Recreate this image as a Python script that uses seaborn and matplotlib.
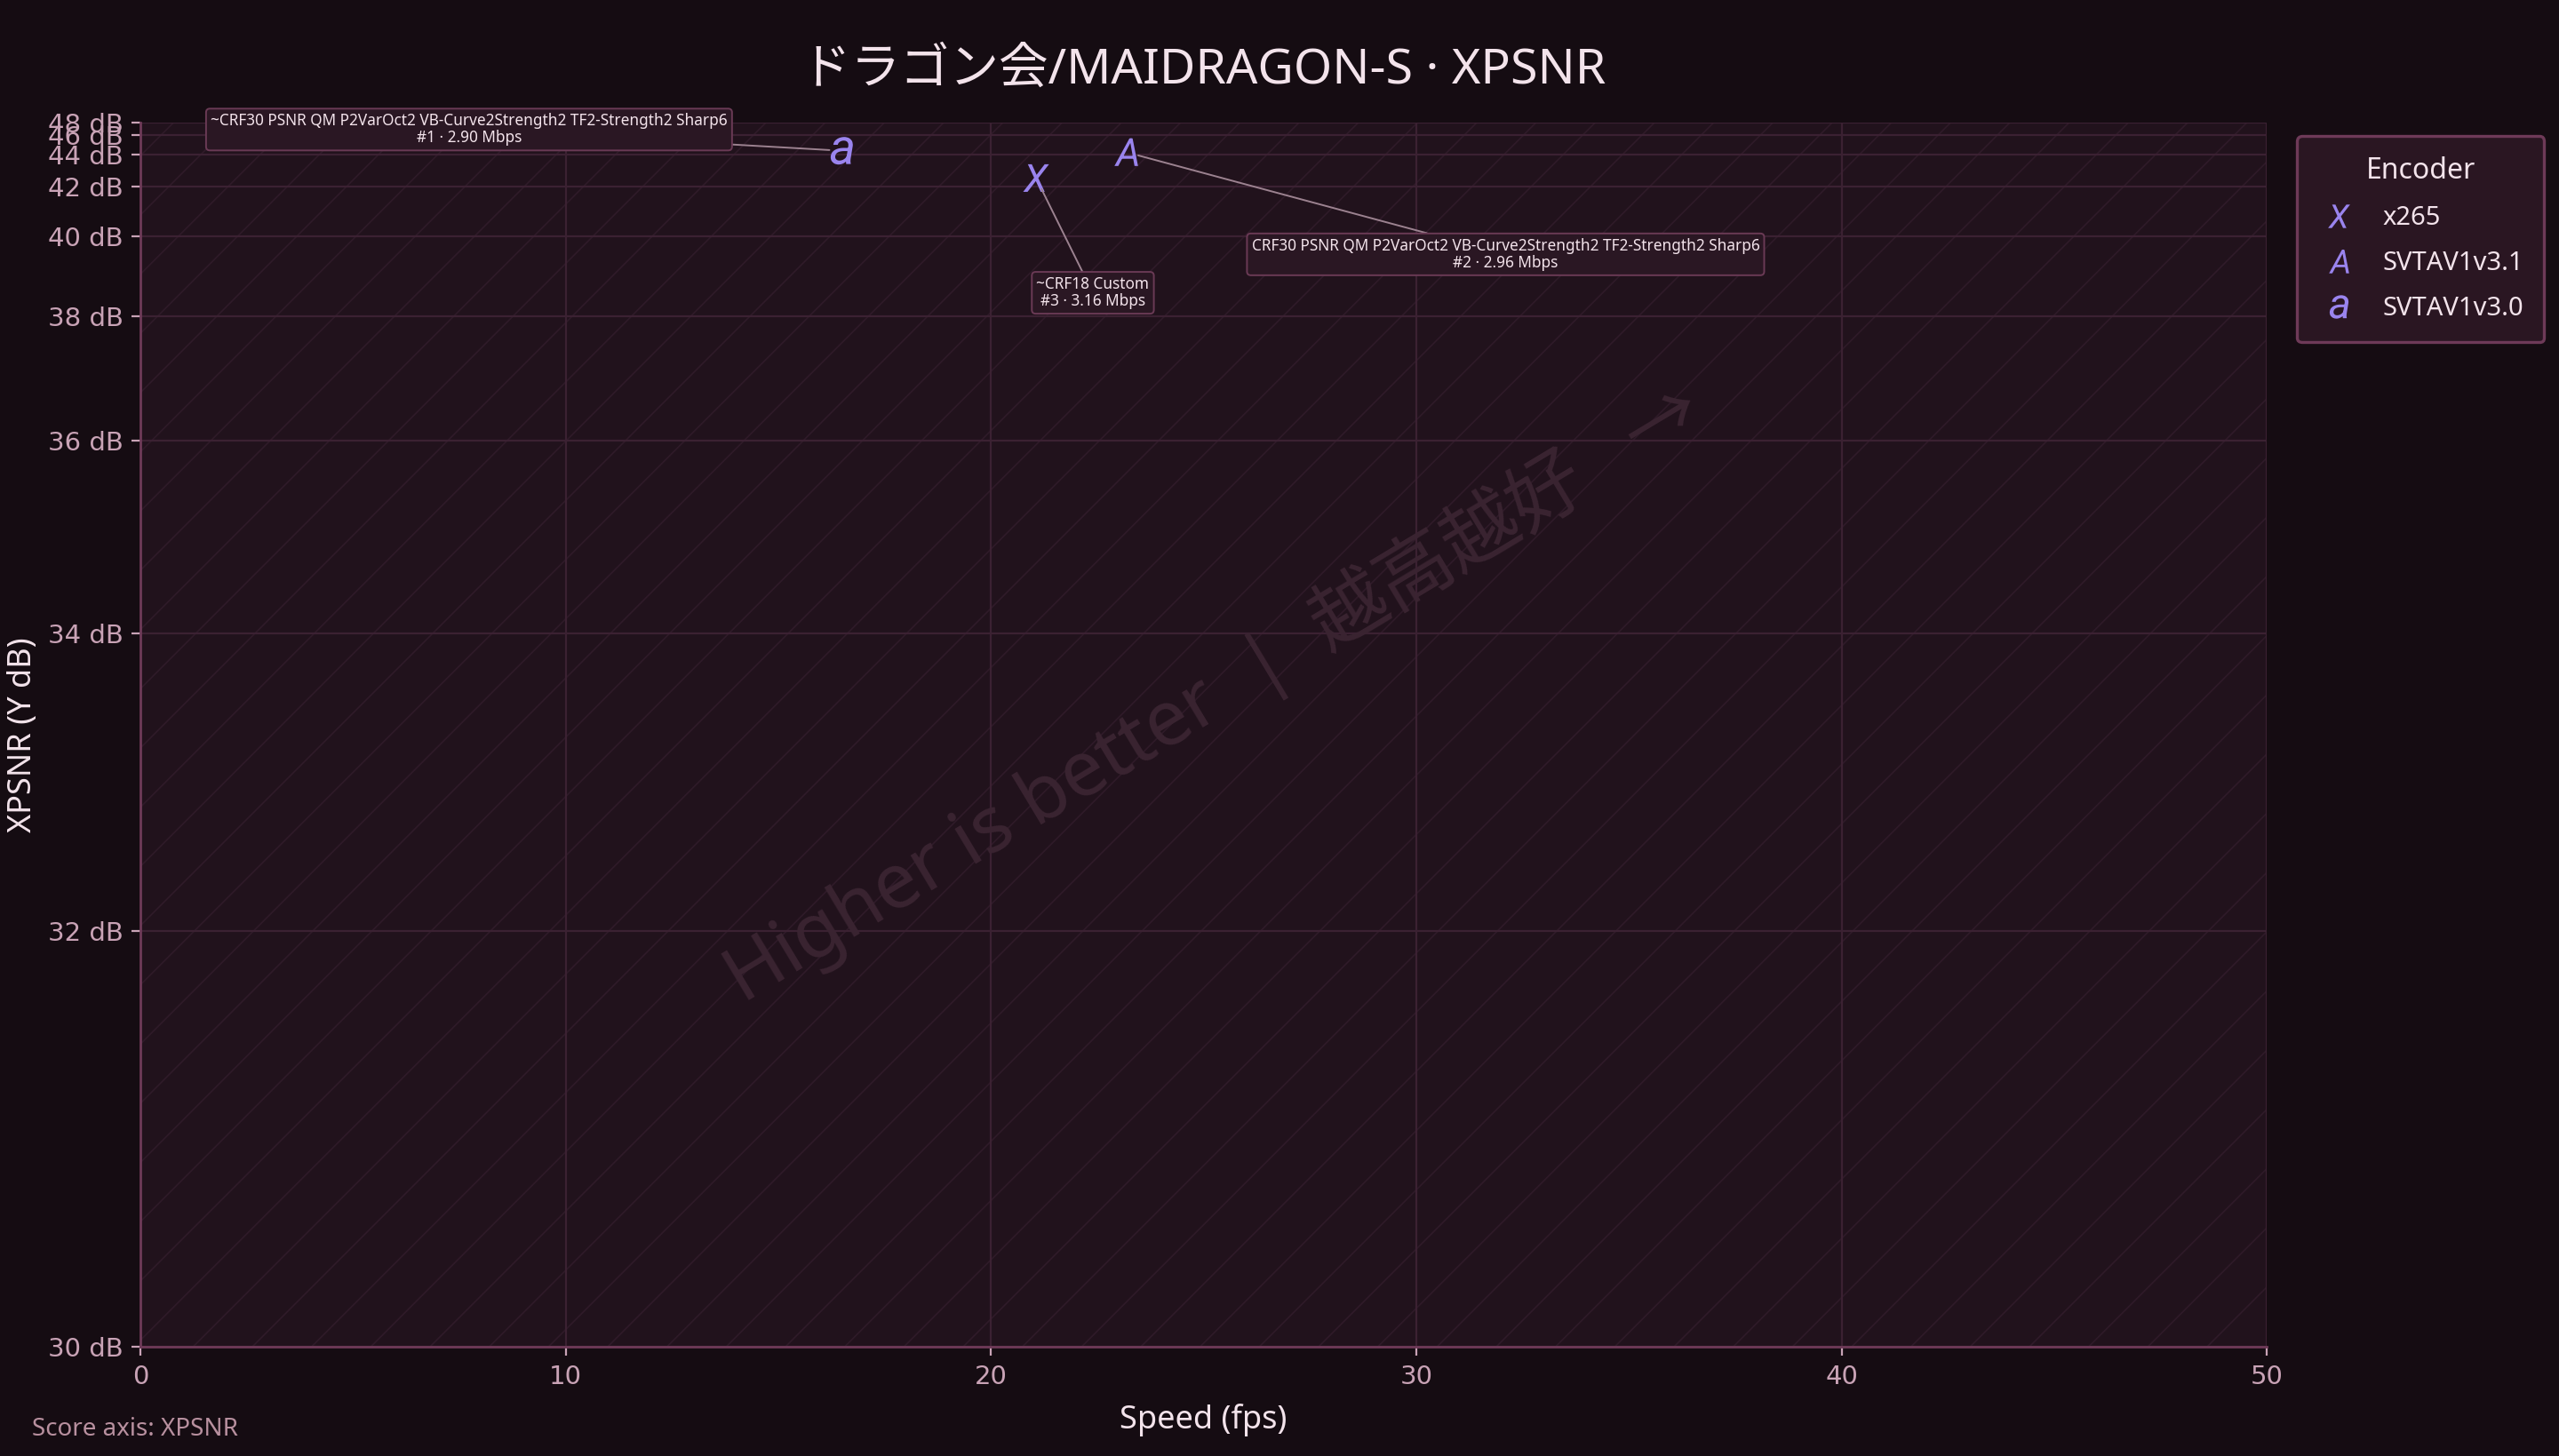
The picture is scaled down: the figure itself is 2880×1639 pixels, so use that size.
import numpy as np
import pandas as pd
import matplotlib
matplotlib.use("Agg")
import matplotlib.pyplot as plt
import seaborn as sns
from matplotlib.patches import Rectangle

# ---- data ----
encoders = ["x265", "SVTAV1v3.1", "SVTAV1v3.0"]
speed_fps = [21.06, 23.18, 16.49]
xpsnr_db = [42.55, 44.25, 44.4]
settings = ["~CRF18 Custom",
            "CRF30 PSNR QM P2VarOct2 VB-Curve2Strength2 TF2-Strength2 Sharp6",
            "~CRF30 PSNR QM P2VarOct2 VB-Curve2Strength2 TF2-Strength2 Sharp6"]
ranks = [3, 2, 1]
bitrate_mbps = [3.16, 2.96, 2.90]
glyphs = ["$X$", "$A$", "$a$"]

# score axis is compressed towards the top: dB -> relative position (from tick spacing)
scale_db = [30, 32, 34, 36, 38, 40, 42, 44, 46, 48]
scale_pos = [0, 468, 802.7, 1020, 1159.7, 1249, 1305, 1341.4, 1363, 1377.4]

df = pd.DataFrame({"Encoder": encoders, "speed": speed_fps, "score": xpsnr_db,
                   "setting": settings, "rank": ranks, "mbps": bitrate_mbps})

# colours
BG = "#150c12"
AX_BG = "#21121c"
GRID = "#3b2132"
SPINE = "#6e3a58"
TICK = "#c9a3b6"
TXT = "#f3e3eb"
MARK = "#9a84ee"

sns.set_theme(style="dark", rc={
    "figure.facecolor": BG, "axes.facecolor": AX_BG,
    "axes.edgecolor": SPINE, "grid.color": GRID,
    "text.color": TXT, "axes.labelcolor": TXT,
    "xtick.color": TICK, "ytick.color": TICK,
    "hatch.linewidth": 0.6,
})
plt.rcParams["font.family"] = ["Noto Sans", "Noto Sans CJK JP", "DejaVu Sans"]
plt.rcParams["mathtext.fontset"] = "custom"
plt.rcParams["mathtext.it"] = "Roboto:italic"
plt.rcParams["mathtext.rm"] = "Roboto"

fig = plt.figure(figsize=(14.4, 8.195), dpi=200)
ax = fig.add_axes([0.0549, 0.075, 0.8309, 0.8408])

fwd = lambda v: np.interp(v, scale_db, scale_pos)
inv = lambda p: np.interp(p, scale_pos, scale_db)
ax.set_yscale("function", functions=(fwd, inv))

# faint diagonal texture
ax.add_patch(Rectangle((0, 0), 1, 1, transform=ax.transAxes, facecolor="none",
                       edgecolor="#2f1b29", lw=0, hatch="/", zorder=0))

ax.text(0.505, 0.533, "Higher is better  |  越高越好   →", transform=ax.transAxes,
        rotation=31, rotation_mode="anchor", ha="center", va="center",
        fontsize=31, color="#3a2431", zorder=1,
        family=["Noto Sans", "Noto Sans CJK JP", "DejaVu Sans"])

sns.scatterplot(data=df, x="speed", y="score", style="Encoder",
                style_order=encoders, markers=dict(zip(encoders, glyphs)),
                color=MARK, s=125, linewidth=0, ax=ax, zorder=4)

# labels next to each point (offsets in points)
offsets = {"SVTAV1v3.0": (-151, 8.6), "SVTAV1v3.1": (153.7, -41.4), "x265": (23, -46.5)}
for _, r in df.iterrows():
    ax.annotate(f"{r['setting']}\n#{r['rank']} · {r['mbps']:.2f} Mbps",
                xy=(r["speed"], r["score"]), xytext=offsets[r["Encoder"]],
                textcoords="offset points", ha="center", va="center",
                fontsize=6.2, color=TXT, linespacing=1.05, zorder=5,
                bbox=dict(boxstyle="round,pad=0.3,rounding_size=0.25",
                          fc="#2a1723", ec="#6a3a55", lw=0.7),
                arrowprops=dict(arrowstyle="-", color="#9c8290", lw=0.7,
                                shrinkA=0, shrinkB=5))

ax.set_xlim(0, 50)
ax.set_ylim(30, 48)
ax.set_xticks(range(0, 51, 10))
ax.set_yticks(scale_db)
ax.set_yticklabels([f"{v} dB" for v in scale_db], family="DejaVu Sans")
ax.tick_params(axis="both", labelsize=10.5, length=3.5, width=0.8, direction="out",
               left=True, bottom=True)
for lab in ax.get_xticklabels():
    lab.set_family("DejaVu Sans")
ax.grid(True, color=GRID, lw=0.8)
for side in ["top", "right"]:
    ax.spines[side].set_visible(False)
for side in ["left", "bottom"]:
    ax.spines[side].set_color(SPINE)
    ax.spines[side].set_linewidth(1.0)

ax.set_xlabel("Speed (fps)", fontsize=13, labelpad=6)
ax.set_ylabel("XPSNR (Y dB)", fontsize=13, va="center")
ax.yaxis.set_label_coords(-0.055, 0.5)
ax.set_title("ドラゴン会/MAIDRAGON-S · XPSNR", fontsize=20, color=TXT, pad=16,
             family=["Noto Sans", "Noto Sans CJK JP", "DejaVu Sans"])

sns.move_legend(ax, "upper left", bbox_to_anchor=(1.0142, 0.989), title="Encoder",
                frameon=True, fontsize=10.5, title_fontsize=11.5,
                facecolor="#2a1622", edgecolor=SPINE, framealpha=1,
                borderaxespad=0, borderpad=0.8, labelspacing=0.75,
                handlelength=1.6, handletextpad=0.9, markerscale=0.85)
leg = ax.get_legend()
leg.get_frame().set_linewidth(1.2)
for t in leg.get_texts():
    t.set_color(TXT)
leg.get_title().set_color(TXT)

fig.text(0.0125, 0.018, "Score axis: XPSNR", fontsize=10, color="#b8909f",
         ha="left", va="center")

fig.savefig("out.png", dpi=200, facecolor=BG)
